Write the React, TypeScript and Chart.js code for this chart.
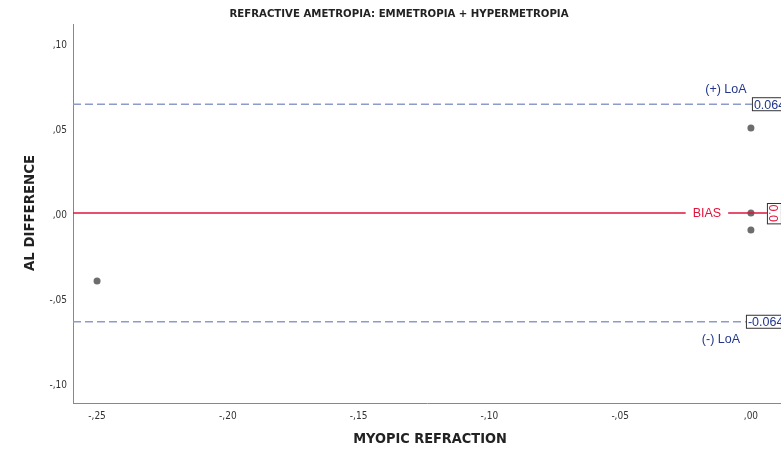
import React, { useEffect, useRef } from "react";
import { Chart, registerables } from "chart.js";

Chart.register(...registerables);

const chartTitle = "REFRACTIVE AMETROPIA: EMMETROPIA + HYPERMETROPIA";
const xTitle = "MYOPIC REFRACTION";
const yTitle = "AL DIFFERENCE";

const refraction = [-0.25, 0, 0, 0];
const alDifference = [-0.04, 0.05, 0, -0.01];

const bias = 0.0;
const upperLoA = 0.064;
const lowerLoA = -0.064;
const biasText = "0.0";
const upperText = "0.064";
const lowerText = "-0.064";

const xTicks = [-0.25, -0.2, -0.15, -0.1, -0.05, 0];
const yTicks = [-0.1, -0.05, 0, 0.05, 0.1];
const xRange = [-0.2592, 0.0115];
const yRange = [-0.1118, 0.1112];

const fmt = (v: number) => {
  const s = Math.abs(v).toFixed(2).replace(/^0\./, ",");
  return (v < 0 ? "-" : "") + s;
};

const BLUE = "#22368c";
const RED = "#e0143c";
const DASH = "#8c9bc8";
const SANS = "'Liberation Sans', Arial, sans-serif";
const COND = "'DejaVu Sans Condensed', 'DejaVu Sans', sans-serif";

const overlay = {
  id: "overlay",
  afterDatasetsDraw(chart: any) {
    const ctx = chart.ctx as CanvasRenderingContext2D;
    const x = chart.scales.x;
    const y = chart.scales.y;
    ctx.save();
    // titles
    ctx.fillStyle = "#222";
    ctx.textAlign = "center";
    ctx.textBaseline = "middle";
    ctx.font = `bold 11.3px ${COND}`;
    ctx.fillText(chartTitle, 399, 14);
    ctx.font = `bold 14.4px ${COND}`;
    ctx.fillText(xTitle, 430, 439);
    ctx.save();
    ctx.translate(30, 213);
    ctx.rotate(-Math.PI / 2);
    ctx.font = `bold 14.8px ${COND}`;
    ctx.fillText(yTitle, 0, 0);
    ctx.restore();

    // y tick labels
    ctx.font = `10px ${COND}`;
    ctx.fillStyle = "#333";
    ctx.textAlign = "right";
    yTicks.forEach((v) => {
      ctx.fillText(fmt(v), 67, y.getPixelForValue(v) + 2);
    });
    ctx.textAlign = "center";

    const x0 = x.getPixelForValue(0);
    const yu = y.getPixelForValue(upperLoA);
    const yb = y.getPixelForValue(bias);
    const yl = y.getPixelForValue(lowerLoA);

    // LoA labels
    ctx.font = `12.5px ${SANS}`;
    ctx.fillStyle = BLUE;
    ctx.fillText("(+) LoA", x0 - 25, yu - 15);
    ctx.fillText("(-) LoA", x0 - 30, yl + 18);

    // BIAS label with white background
    const bx = x0 - 44;
    const bw = ctx.measureText("BIAS").width + 14;
    ctx.fillStyle = "#fff";
    ctx.fillRect(bx - bw / 2, yb - 7, bw, 14);
    ctx.fillStyle = RED;
    ctx.fillText("BIAS", bx, yb + 1);

    // boxes
    const box = (left: number, cy: number, text: string, color: string) => {
      ctx.font = `12.5px ${SANS}`;
      const w = ctx.measureText(text).width + 4;
      ctx.fillStyle = "#fff";
      ctx.fillRect(left, cy - 6, w, 13);
      ctx.strokeStyle = "#333";
      ctx.lineWidth = 1;
      ctx.strokeRect(left + 0.5, cy - 6.5, w, 13);
      ctx.fillStyle = color;
      ctx.textAlign = "left";
      ctx.fillText(text, left + 2, cy + 1);
      ctx.textAlign = "center";
    };
    box(x0 + 1, yu, upperText, BLUE);
    box(x0 - 5, yl, lowerText, BLUE);

    // bias rotated box
    ctx.font = `12.5px ${SANS}`;
    const tw = ctx.measureText(biasText).width + 3;
    const left = x0 + 16;
    ctx.fillStyle = "#fff";
    ctx.fillRect(left, yb - 10, 14, tw);
    ctx.strokeStyle = "#333";
    ctx.strokeRect(left + 0.5, yb - 9.5, 14, tw);
    ctx.save();
    ctx.translate(left + 7, yb - 8.5);
    ctx.rotate(Math.PI / 2);
    ctx.fillStyle = RED;
    ctx.textAlign = "left";
    ctx.fillText(biasText, 0, 1);
    ctx.restore();

    ctx.restore();
  },
};

export default function App() {
  const ref = useRef<HTMLCanvasElement>(null);
  useEffect(() => {
    const lineData = (v: number) => [
      { x: xRange[0], y: v },
      { x: xRange[1], y: v },
    ];
    const chart = new Chart(ref.current!, {
      type: "scatter",
      data: {
        datasets: [
          {
            type: "line",
            data: lineData(upperLoA),
            borderColor: DASH,
            borderWidth: 1.5,
            borderDash: [8, 4],
            pointRadius: 0,
          },
          {
            type: "line",
            data: lineData(lowerLoA),
            borderColor: DASH,
            borderWidth: 1.5,
            borderDash: [8, 4],
            pointRadius: 0,
          },
          {
            type: "line",
            data: lineData(bias),
            borderColor: RED,
            borderWidth: 1.5,
            pointRadius: 0,
          },
          {
            data: refraction.map((v, i) => ({ x: v, y: alDifference[i] })),
            backgroundColor: "#6d6d6d",
            borderColor: "#6d6d6d",
            pointRadius: 3.5,
            borderWidth: 0,
          },
        ] as any,
      },
      options: {
        animation: false,
        responsive: false,
        layout: { autoPadding: false, padding: { top: 24, left: 0, right: 0, bottom: 0 } },
        plugins: { legend: { display: false }, tooltip: { enabled: false } },
        scales: {
          x: {
            type: "linear",
            min: xRange[0],
            max: xRange[1],
            afterBuildTicks: (s: any) => {
              s.ticks = xTicks.map((v) => ({ value: v }));
            },
            afterFit: (s: any) => {
              s.height = 50;
              s.paddingLeft = 0;
              s.paddingRight = 0;
            },
            grid: { display: false, drawTicks: false },
            border: { color: "#888", width: 1 },
            ticks: {
              padding: 7,
              color: "#333",
              font: { family: COND, size: 10 },
              callback: (v: any) => fmt(Number(v)),
              maxRotation: 0,
              autoSkip: false,
            },
          },
          y: {
            type: "linear",
            min: yRange[0],
            max: yRange[1],
            afterBuildTicks: (s: any) => {
              s.ticks = yTicks.map((v) => ({ value: v }));
            },
            afterFit: (s: any) => {
              s.width = 73;
              s.paddingTop = 0;
              s.paddingBottom = 0;
            },
            grid: { display: false, drawTicks: false },
            border: { color: "#888", width: 1 },
            ticks: { display: false },
          },
        },
      },
      plugins: [overlay],
    });
    return () => chart.destroy();
  }, []);
  return (
    <div style={{ position: "fixed", left: 0, top: 0, width: 781, height: 453, background: "#fff" }}>
      <canvas ref={ref} width={781} height={453} style={{ display: "block" }} />
    </div>
  );
}
